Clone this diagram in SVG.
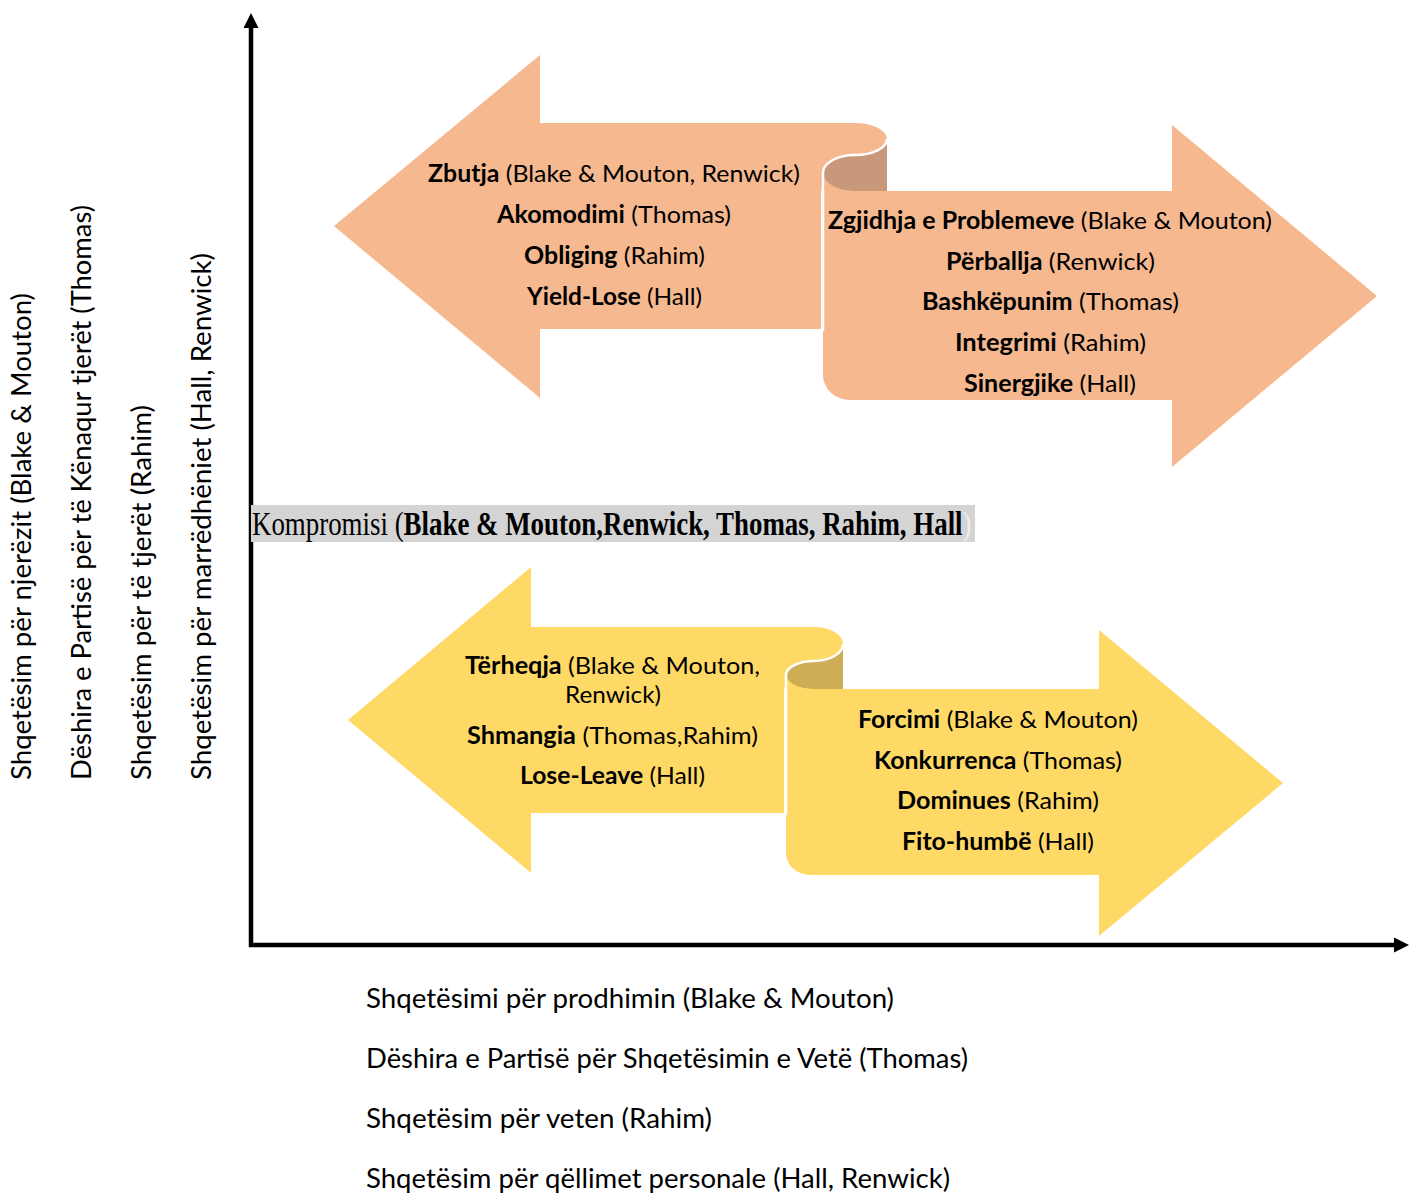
<svg xmlns="http://www.w3.org/2000/svg" width="1411" height="1195" viewBox="0 0 1411 1195">
  <style>
    .t { font-family: Lato, "Open Sans", "Liberation Sans", sans-serif; font-size: 24px; fill: #000; text-anchor: middle; }
    .lbl { font-family: Lato, "Open Sans", "Liberation Sans", sans-serif; font-size: 26px; fill: #000; }
    .b { font-weight: 700; }
    .orange { fill: #F5B88F; }
    .orange-dark { fill: #C9977A; }
    .yellow { fill: #FFD966; }
    .yellow-dark { fill: #CDAE55; }
    .edge { fill: none; stroke: #FFFFFF; stroke-width: 2.5; }
    .axis { fill: none; stroke: #000; stroke-width: 4.5; }
    .komp { font-family: "Liberation Serif", "Times New Roman", serif; font-size: 33px; fill: #000; }
  </style>
  <defs>
    <marker id="ah" markerUnits="userSpaceOnUse" markerWidth="16" markerHeight="16" viewBox="0 0 16 16" refX="1" refY="8" orient="auto">
      <path d="M0,0.5 L15,8 L0,15.5 Z" fill="#000"/>
    </marker>
  </defs>

  <g id="connectors">
    <path class="axis" d="M251,947 L251,27" marker-end="url(#ah)"/>
    <path class="axis" d="M249,945 L1395,945" marker-end="url(#ah)"/>
  </g>

  <g id="node-zbutja">
    <path class="orange" d="M334,226 L540,55 L540,123 L855,123 A32,16 0 0 1 887,139 L887,191 L821,191 L821,329 L540,329 L540,398 Z"/>
    <text class="t" x="614" y="182" textLength="372" lengthAdjust="spacingAndGlyphs"><tspan class="b">Zbutja</tspan> (Blake &amp; Mouton, Renwick)</text>
    <text class="t" x="614" y="223" textLength="234" lengthAdjust="spacingAndGlyphs"><tspan class="b">Akomodimi</tspan> (Thomas)</text>
    <text class="t" x="614.5" y="264" textLength="181" lengthAdjust="spacingAndGlyphs"><tspan class="b">Obliging</tspan> (Rahim)</text>
    <text class="t" x="614.5" y="305" textLength="175" lengthAdjust="spacingAndGlyphs"><tspan class="b">Yield-Lose</tspan> (Hall)</text>
  </g>

  <g id="node-zgjidhja">
    <path class="orange-dark" d="M887,139 A32,16 0 0 1 855,155 A32,18 0 0 0 823,173 A32,18 0 0 0 855,191 L887,191 Z"/>
    <path class="orange" d="M823,173 A32,18 0 0 0 855,191 L1172,191 L1172,125 L1377,296 L1172,467 L1172,400 L850,400 A27,25 0 0 1 823,375 Z"/>
    <path class="edge" d="M887,139 A32,16 0 0 1 855,155 A32,18 0 0 0 823,173 L823,331"/>
    <text class="t" x="1050" y="229" textLength="444" lengthAdjust="spacingAndGlyphs"><tspan class="b">Zgjidhja e Problemeve</tspan> (Blake &amp; Mouton)</text>
    <text class="t" x="1050.5" y="270" textLength="209" lengthAdjust="spacingAndGlyphs"><tspan class="b">Përballja</tspan> (Renwick)</text>
    <text class="t" x="1050.5" y="310" textLength="257" lengthAdjust="spacingAndGlyphs"><tspan class="b">Bashkëpunim</tspan> (Thomas)</text>
    <text class="t" x="1050.5" y="351" textLength="191" lengthAdjust="spacingAndGlyphs"><tspan class="b">Integrimi</tspan> (Rahim)</text>
    <text class="t" x="1050" y="392" textLength="172" lengthAdjust="spacingAndGlyphs"><tspan class="b">Sinergjike</tspan> (Hall)</text>
  </g>

  <g id="node-kompromisi">
    <rect x="251" y="505" width="724" height="37" fill="#D4D4D4"/>
    <text class="komp" transform="translate(252,535) scale(0.815,1)" x="0" y="0">Kompromisi (<tspan class="b">Blake &amp; Mouton,Renwick, Thomas, Rahim, Hall</tspan><tspan style="fill:#EEEEEE">)</tspan></text>
  </g>

  <g id="node-terheqja">
    <path class="yellow" d="M348,720 L531,567 L531,627 L814,627 A29,17 0 0 1 843,644 L843,689 L784,689 L784,813 L531,813 L531,873 Z"/>
    <text class="t" x="612.5" y="674" textLength="295" lengthAdjust="spacingAndGlyphs"><tspan class="b">Tërheqja</tspan> (Blake &amp; Mouton,</text>
    <text class="t" x="613" y="703" textLength="96" lengthAdjust="spacingAndGlyphs">Renwick)</text>
    <text class="t" x="612.5" y="744" textLength="291" lengthAdjust="spacingAndGlyphs"><tspan class="b">Shmangia</tspan> (Thomas,Rahim)</text>
    <text class="t" x="612.5" y="784" textLength="185" lengthAdjust="spacingAndGlyphs"><tspan class="b">Lose-Leave</tspan> (Hall)</text>
  </g>

  <g id="node-forcimi">
    <path class="yellow-dark" d="M843,644 A29,17 0 0 1 814,661 A28,14 0 0 0 786,675 A28,14 0 0 0 814,689 L843,689 Z"/>
    <path class="yellow" d="M786,675 A28,14 0 0 0 814,689 L1099,689 L1099,630 L1283,783 L1099,936 L1099,875 L810,875 A24,22 0 0 1 786,853 Z"/>
    <path class="edge" d="M843,644 A29,17 0 0 1 814,661 A28,14 0 0 0 786,675 L786,815"/>
    <text class="t" x="998" y="728" textLength="280" lengthAdjust="spacingAndGlyphs"><tspan class="b">Forcimi</tspan> (Blake &amp; Mouton)</text>
    <text class="t" x="998" y="769" textLength="248" lengthAdjust="spacingAndGlyphs"><tspan class="b">Konkurrenca</tspan> (Thomas)</text>
    <text class="t" x="998" y="809" textLength="202" lengthAdjust="spacingAndGlyphs"><tspan class="b">Dominues</tspan> (Rahim)</text>
    <text class="t" x="998" y="850" textLength="192" lengthAdjust="spacingAndGlyphs"><tspan class="b">Fito-humbë</tspan> (Hall)</text>
  </g>

  <g id="y-axis-labels">
    <text class="lbl" transform="translate(31,780) rotate(-90)" textLength="487" lengthAdjust="spacingAndGlyphs">Shqetësim për njerëzit (Blake &amp; Mouton)</text>
    <text class="lbl" transform="translate(91,780) rotate(-90)" textLength="575" lengthAdjust="spacingAndGlyphs">Dëshira e Partisë për të Kënaqur tjerët (Thomas)</text>
    <text class="lbl" transform="translate(151,780) rotate(-90)" textLength="375" lengthAdjust="spacingAndGlyphs">Shqetësim për të tjerët (Rahim)</text>
    <text class="lbl" transform="translate(211,780) rotate(-90)" textLength="527" lengthAdjust="spacingAndGlyphs">Shqetësim për marrëdhëniet (Hall, Renwick)</text>
  </g>

  <g id="x-axis-labels">
    <text class="lbl" x="366" y="1008" textLength="528" lengthAdjust="spacingAndGlyphs">Shqetësimi për prodhimin (Blake &amp; Mouton)</text>
    <text class="lbl" x="366" y="1068" textLength="602" lengthAdjust="spacingAndGlyphs">Dëshira e Partisë për Shqetësimin e Vetë (Thomas)</text>
    <text class="lbl" x="366" y="1128" textLength="346" lengthAdjust="spacingAndGlyphs">Shqetësim për veten (Rahim)</text>
    <text class="lbl" x="366" y="1188" textLength="584" lengthAdjust="spacingAndGlyphs">Shqetësim për qëllimet personale (Hall, Renwick)</text>
  </g>
</svg>
